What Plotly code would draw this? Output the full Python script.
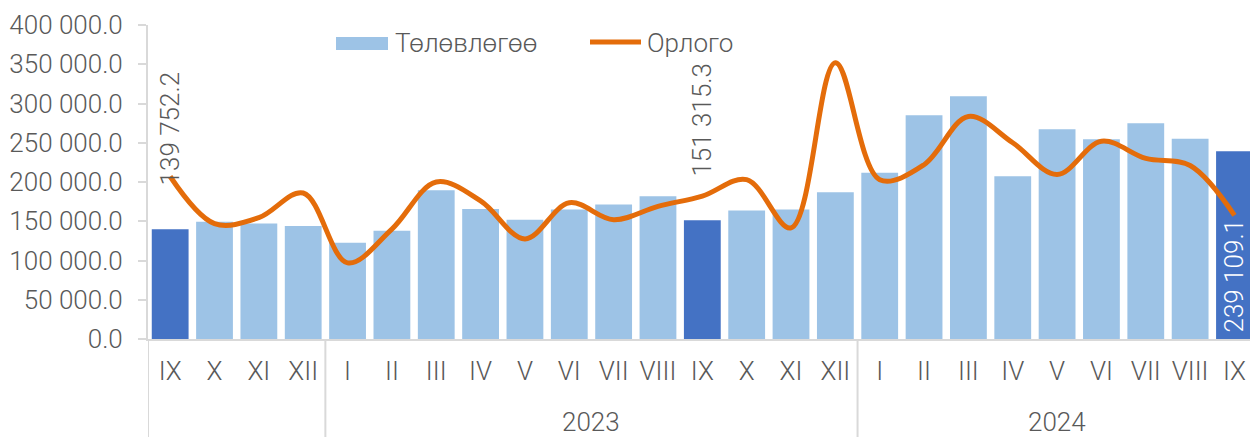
import plotly.graph_objects as go

years = ["2022"] * 4 + ["2023"] * 12 + ["2024"] * 9
months = ["IX", "X", "XI", "XII",
          "I", "II", "III", "IV", "V", "VI", "VII", "VIII", "IX", "X", "XI", "XII",
          "I", "II", "III", "IV", "V", "VI", "VII", "VIII", "IX"]
year_labels = {"2022": "", "2023": "2023", "2024": "2024"}
plan = [139752.2, 149500, 147000, 144000,
        122700, 138000, 189500, 165700, 152000, 164900, 171200, 181900, 151315.3, 163600, 164900, 187000,
        211800, 285000, 309300, 207400, 267100, 254300, 274800, 255200, 239109.1]
income = [207000, 147000, 154500, 186000,
          97000, 140000, 200000, 176000, 127500, 173500, 152000, 169000, 182000, 203000, 141500, 352000,
          203000, 222000, 283500, 250000, 209500, 252000, 230000, 221000, 157500]
highlight = [m == "IX" for m in months]

LIGHT = "#9DC3E6"
DARK = "#4472C4"
ORANGE = "#E46C0A"
GREY = "#595959"
AXIS = "#D9D9D9"
FONT = "Roboto"
FS = 26

# body margin is removed by a small post script, so page pixels == figure pixels
W, H = 1250, 437
ML, MT, MR = 148, 25, 0
PLOT_B = 339
MB = H - PLOT_B
PW, PH = W - ML - MR, H - MT - MB
X_MAX = 24.35  # last category is partly cut by the right edge, as in the reference


def px(x):
    return (x - ML) / PW


def py(y):
    return (PLOT_B - y) / PH


keys = [f"{y}-{m}" for y, m in zip(years, months)]

fig = go.Figure()
fig.add_trace(go.Bar(
    x=keys, y=plan, name="Төлөвлөгөө", showlegend=False,
    marker=dict(color=[DARK if h else LIGHT for h in highlight], line=dict(width=0)),
    width=0.83,
))
fig.add_trace(go.Scatter(
    x=keys, y=income, name="Орлого", mode="lines", showlegend=False,
    line=dict(color=ORANGE, width=5, shape="spline", smoothing=1.0),
))

# data labels on highlighted bars
last = len(plan) - 1
for i, (v, h) in enumerate(zip(plan, highlight)):
    if not h:
        continue
    txt = f"{v:,.1f}".replace(",", " ")
    if i == last:
        fig.add_annotation(x=i, y=0, text=txt, textangle=-90, showarrow=False,
                           xanchor="center", yanchor="bottom", yshift=5,
                           font=dict(family=FONT, size=FS, color="white", weight=300))
    else:
        fig.add_annotation(x=i, y=v, text=txt, textangle=-90, showarrow=False,
                           xanchor="center", yanchor="bottom", yshift=42,
                           font=dict(family=FONT, size=FS, color=GREY, weight=300))

# year group labels and dividers
groups = []
for i, y in enumerate(years):
    if not groups or groups[-1][0] != y:
        groups.append([y, i, i])
    else:
        groups[-1][2] = i
for g, a, b in groups:
    fig.add_annotation(x=(a + b) / 2, y=py(422), yref="paper", text=year_labels[g],
                       showarrow=False, xanchor="center", yanchor="middle",
                       font=dict(family=FONT, size=FS, color=GREY, weight=300))
    fig.add_shape(type="line", xref="x", yref="paper", x0=a - 0.5, x1=a - 0.5,
                  y0=0, y1=py(H + 20), line=dict(color=AXIS, width=2))

# legend drawn manually
fig.add_shape(type="rect", xref="paper", yref="paper", x0=px(336), x1=px(388),
              y0=py(50), y1=py(37), fillcolor=LIGHT, line=dict(width=0))
fig.add_annotation(x=px(393), y=py(43), xref="paper", yref="paper", text="Төлөвлөгөө",
                   showarrow=False, xanchor="left", yanchor="middle",
                   font=dict(family=FONT, size=FS, color=GREY, weight=300))
fig.add_shape(type="line", xref="paper", yref="paper", x0=px(590), x1=px(641),
              y0=py(42), y1=py(42), line=dict(color=ORANGE, width=5))
fig.add_annotation(x=px(645), y=py(43), xref="paper", yref="paper", text="Орлого",
                   showarrow=False, xanchor="left", yanchor="middle",
                   font=dict(family=FONT, size=FS, color=GREY, weight=300))

fig.update_layout(
    width=W, height=H,
    margin=dict(l=ML, r=MR, t=MT, b=MB, autoexpand=False),
    paper_bgcolor="white", plot_bgcolor="white",
    separators=". ",
    font=dict(family=FONT, size=FS, color=GREY, weight=300),
    showlegend=False,
)
fig.update_yaxes(range=[0, 400000], dtick=50000, tickformat=",.1f",
                 automargin=False,
                 showgrid=False, zeroline=False,
                 showline=True, linecolor=AXIS, linewidth=2,
                 ticks="outside", ticklen=8, tickcolor=AXIS, tickwidth=2,
                 ticklabelstandoff=10,
                 tickfont=dict(family=FONT, size=FS, color=GREY, weight=300))
fig.update_xaxes(type="category", range=[-0.5, X_MAX],
                 automargin=False,
                 tickvals=keys, ticktext=months,
                 showgrid=False, zeroline=False,
                 showline=True, linecolor=AXIS, linewidth=2,
                 ticks="", ticklabelstandoff=8,
                 tickfont=dict(family=FONT, size=FS, color=GREY, weight=300))

fig.write_html("out.html", config={"displayModeBar": False},
               post_script="document.body.style.margin='0';document.body.style.overflow='hidden';")
